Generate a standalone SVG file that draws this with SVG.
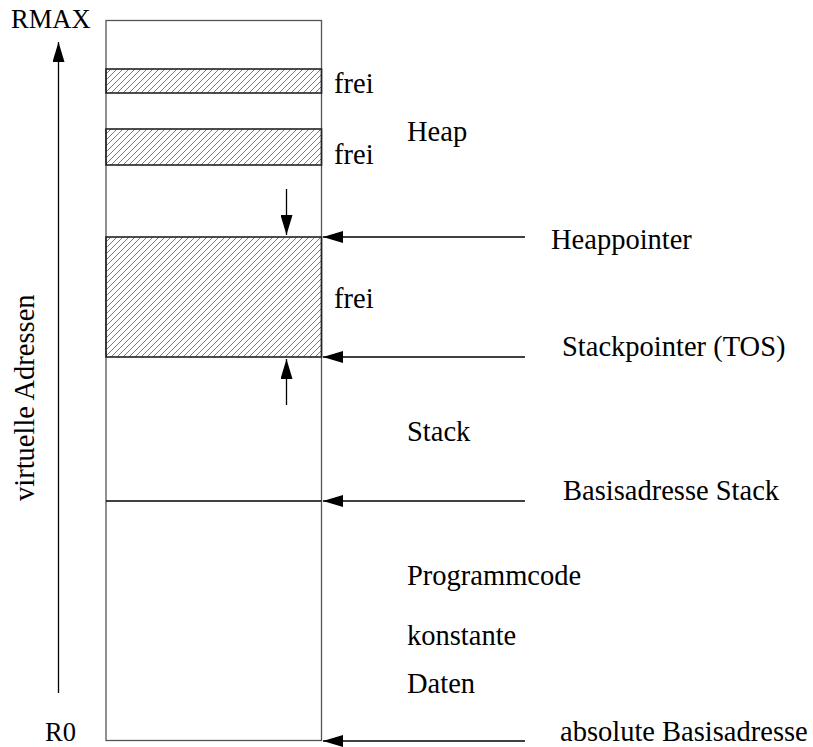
<svg xmlns="http://www.w3.org/2000/svg" width="813" height="747" viewBox="0 0 813 747">
  <style>
    .frame { fill: none; stroke: #555; stroke-width: 1.3; }
    .band { fill: url(#hatch); stroke: #222; stroke-width: 1.6; }
    .conn { stroke: #000; stroke-width: 1.3; fill: none; }
  </style>
  <defs>
    <pattern id="hatch" patternUnits="userSpaceOnUse" width="6" height="6">
      <path d="M-1,1 L1,-1 M0,6 L6,0 M5,7 L7,5" stroke="#444" stroke-width="0.7"/>
    </pattern>
    <marker id="ah" viewBox="0 0 20 12" refX="20" refY="6" markerWidth="20" markerHeight="12" markerUnits="userSpaceOnUse" orient="auto">
      <path d="M0,0 L20,6 L0,12 Z" fill="#000"/>
    </marker>
  </defs>

  <!-- memory column -->
  <g id="memory">
    <rect class="frame" x="106" y="20.5" width="215.5" height="720"/>
    <rect class="band" x="106" y="69" width="215.5" height="24"/>
    <rect class="band" x="106" y="129" width="215.5" height="36"/>
    <rect class="band" x="106" y="237" width="215.5" height="120"/>
    <line class="conn" x1="106" y1="501" x2="321.5" y2="501"/>
  </g>

  <!-- labels -->
  <g id="labels" font-family="'Liberation Serif', Tinos, 'Times New Roman', serif" font-size="28.5" fill="#000">
    <text x="11" y="28" font-size="26.5">RMAX</text>
    <text x="45" y="741" font-size="26.5">R0</text>
    <text transform="translate(34,501) rotate(-90)">virtuelle Adressen</text>
    <text x="334" y="93">frei</text>
    <text x="334" y="164">frei</text>
    <text x="407" y="141">Heap</text>
    <text x="334" y="308">frei</text>
    <text x="551" y="249">Heappointer</text>
    <text x="562" y="356">Stackpointer (TOS)</text>
    <text x="407" y="441">Stack</text>
    <text x="563" y="500">Basisadresse Stack</text>
    <text x="407" y="585">Programmcode</text>
    <text x="407" y="645">konstante</text>
    <text x="407" y="693">Daten</text>
    <text x="560" y="741">absolute Basisadresse</text>
  </g>

  <!-- connectors -->
  <g id="connectors">
    <line class="conn" x1="58.5" y1="693" x2="58.5" y2="42" marker-end="url(#ah)"/>
    <line class="conn" x1="286.5" y1="189" x2="286.5" y2="235" marker-end="url(#ah)"/>
    <line class="conn" x1="286.5" y1="405" x2="286.5" y2="359" marker-end="url(#ah)"/>
    <line class="conn" x1="525" y1="237" x2="323" y2="237" marker-end="url(#ah)"/>
    <line class="conn" x1="525" y1="357" x2="323" y2="357" marker-end="url(#ah)"/>
    <line class="conn" x1="525" y1="501" x2="323" y2="501" marker-end="url(#ah)"/>
    <line class="conn" x1="525" y1="741" x2="323" y2="741" marker-end="url(#ah)"/>
  </g>
</svg>
